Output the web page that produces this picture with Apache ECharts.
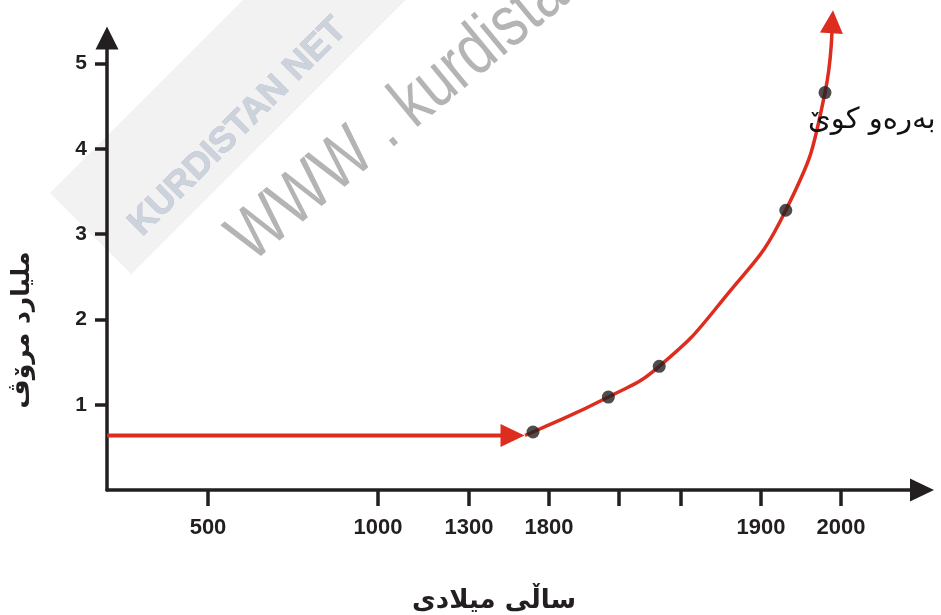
<!DOCTYPE html>
<html>
<head>
<meta charset="utf-8">
<script src="https://cdn.jsdelivr.net/npm/echarts@6/dist/echarts.min.js"></script>
<style>
  html, body { margin: 0; padding: 0; background: #ffffff; }
  #chart { width: 941px; height: 615px; }
</style>
</head>
<body>
<div id="chart"></div>
<script>
// ---------- data ----------
const tickYears = [500, 1000, 1300, 1800, 1833, 1862, 1900, 2000];
const labelYears = [500, 1000, 1300, 1800, 1900, 2000];
const yTickValues = [1, 2, 3, 4, 5];
// marked points (billions of people)
const pointYears = [1700, 1828, 1852, 1931, 1980];
const pointValues = [0.68, 1.09, 1.45, 3.28, 4.66];
// flat early period
const flatYears = [203, 1572];
const flatValues = [0.64, 0.64];
// growth curve
const curveYears = [1650, 1700, 1828, 1852, 1882, 1931, 1980, 1989];
const curveValues = [0.64, 0.68, 1.09, 1.45, 2.23, 3.28, 4.66, 5.49];
const xTitle = 'ساڵی میلادی';
const yTitle = 'ملیارد مرۆڤ';
const noteText = 'بەرەو کوێ';

// ---------- schematic (non-linear) time axis layout ----------
const scaleYears = [500, 1000, 1300, 1800, 1900, 2000];
const scaleUnits = [101, 271, 362, 442, 654, 734];
function toAxis(year) {
  let i = 0;
  while (i < scaleYears.length - 2 && year > scaleYears[i + 1]) i++;
  const y0 = scaleYears[i], y1 = scaleYears[i + 1];
  const u0 = scaleUnits[i], u1 = scaleUnits[i + 1];
  return u0 + (year - y0) * (u1 - u0) / (y1 - y0);
}
function fromAxis(u) {
  let i = 0;
  while (i < scaleUnits.length - 2 && u > scaleUnits[i + 1]) i++;
  const y0 = scaleYears[i], y1 = scaleYears[i + 1];
  const u0 = scaleUnits[i], u1 = scaleUnits[i + 1];
  return y0 + (u - u0) * (y1 - y0) / (u1 - u0);
}

const INK = '#231f20';
const RED = '#dc2d1e';
const ARABIC = '"DejaVu Sans", "Noto Sans", sans-serif';
const NUM = '"Liberation Sans", Arial, sans-serif';

const flatData = flatYears.map((y, i) => {
  const item = { value: [toAxis(y), flatValues[i]] };
  if (i === flatYears.length - 1) {
    item.symbol = 'triangle'; item.symbolSize = [23, 24]; item.symbolRotate = -90;
  }
  return item;
});
const curveData = curveYears.map((y, i) => {
  const item = { value: [toAxis(y), curveValues[i]] };
  if (i === curveYears.length - 1) {
    item.symbol = 'triangle'; item.symbolSize = [23, 23]; item.symbolRotate = -4;
  }
  return item;
});
const dotData = pointYears.map((y, i) => [toAxis(y), pointValues[i]]);

const chart = echarts.init(document.getElementById('chart'), null, { renderer: 'canvas' });
chart.setOption({
  animation: false,
  backgroundColor: '#ffffff',
  grid: { left: 107, top: 38, right: 19, bottom: 125 },
  xAxis: {
    type: 'value',
    min: 0,
    max: 815,
    splitLine: { show: false },
    axisLine: {
      show: true,
      lineStyle: { color: INK, width: 3.5 },
      symbol: ['none', 'triangle'],
      symbolSize: [23, 24]
    },
    axisTick: {
      show: true,
      length: 16,
      lineStyle: { color: INK, width: 3.5 },
      customValues: tickYears.map(toAxis)
    },
    axisLabel: {
      show: true,
      margin: 27,
      color: INK,
      fontSize: 22,
      fontWeight: 'bold',
      fontFamily: NUM,
      customValues: labelYears.map(toAxis),
      formatter: v => String(Math.round(fromAxis(v)))
    }
  },
  yAxis: {
    type: 'value',
    min: 0,
    max: 5.3,
    splitLine: { show: false },
    axisLine: {
      show: true,
      lineStyle: { color: INK, width: 3.5 },
      symbol: ['none', 'triangle'],
      symbolSize: [23, 23]
    },
    axisTick: {
      show: true,
      length: 12,
      lineStyle: { color: INK, width: 3.5 },
      customValues: yTickValues
    },
    axisLabel: {
      show: true,
      margin: 20,
      color: INK,
      fontSize: 21,
      fontWeight: 'bold',
      fontFamily: NUM,
      customValues: yTickValues
    }
  },
  graphic: [
    {
      type: 'rect', z: 0, silent: true,
      x: 50, y: 193, rotation: Math.PI / 4,
      shape: { x: 0, y: 0, width: 420, height: 115 },
      style: { fill: '#eeeeee', opacity: 0.75 }
    },
    {
      type: 'text', z: 1, silent: true,
      x: 238, y: 127, rotation: Math.PI / 4,
      style: {
        text: 'KURDISTAN NET', fill: '#cdd3dc', stroke: '#b9c0cc', lineWidth: 0.8,
        font: 'bold 36px "Liberation Sans", Arial, sans-serif',
        align: 'center', verticalAlign: 'middle'
      }
    },
    {
      type: 'text', z: 1, silent: true,
      x: 262, y: 276, rotation: 0.69, scaleX: 0.8,
      style: {
        text: 'WWW . kurdistan . net', fill: '#b4b4b4',
        font: '72px "Liberation Sans", Arial, sans-serif',
        align: 'left', verticalAlign: 'bottom'
      }
    },
    {
      type: 'text', z: 5, silent: true,
      x: 22, y: 330, rotation: Math.PI / 2,
      style: {
        text: yTitle, fill: INK,
        font: 'bold 25px ' + ARABIC,
        align: 'center', verticalAlign: 'middle'
      }
    },
    {
      type: 'text', z: 5, silent: true,
      x: 494, y: 601,
      style: {
        text: xTitle, fill: INK,
        font: 'bold 26px ' + ARABIC,
        align: 'center', verticalAlign: 'middle'
      }
    },
    {
      type: 'text', z: 5, silent: true,
      x: 808, y: 120,
      style: {
        text: noteText, fill: '#111111',
        font: '29px ' + ARABIC,
        align: 'left', verticalAlign: 'middle'
      }
    }
  ],
  series: [
    {
      type: 'line', z: 3, clip: false, silent: true,
      symbol: 'none', showSymbol: true,
      lineStyle: { color: RED, width: 4 },
      itemStyle: { color: RED },
      data: flatData
    },
    {
      type: 'line', z: 3, clip: false, silent: true,
      smooth: 0.5,
      symbol: 'none', showSymbol: true,
      lineStyle: { color: RED, width: 3.5 },
      itemStyle: { color: RED },
      data: curveData
    },
    {
      type: 'scatter', z: 4, silent: true,
      symbol: 'circle', symbolSize: 13,
      itemStyle: { color: INK },
      data: dotData
    }
  ]
});
</script>
</body>
</html>
